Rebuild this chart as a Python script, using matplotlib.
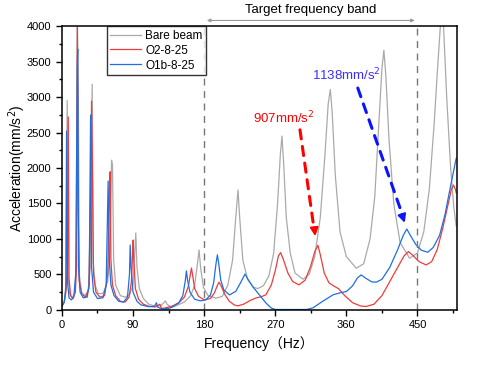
import matplotlib
matplotlib.use("Agg")
import matplotlib.pyplot as plt
from matplotlib.ticker import MultipleLocator

plt.rcParams['font.family'] = ['Liberation Sans', 'Noto Sans CJK SC', 'DejaVu Sans']

# 周波数応答 (読み取り値)
bare_f = [0, 3, 5, 6.7, 8, 10, 13, 16, 18, 19.5, 20.7, 22, 25, 29, 33, 36, 38.3, 39.5, 42, 46,
          52, 58, 61, 62.8, 64, 65.5, 68, 74, 80, 86, 90, 92.2, 93.5, 95, 98, 103, 110, 118,
          125, 129, 131, 133, 138, 145, 155, 163, 168, 171.5, 173.6, 175.5, 179, 185, 195,
          203, 210, 216, 220, 222.9, 225, 229, 235, 242, 248, 255, 262, 268, 273, 276.5,
          278.5, 280.5, 284, 289, 295, 305, 313, 320, 327, 333, 337, 339.7, 342, 346, 352,
          360, 372.5, 382, 390, 396, 401, 405, 407.5, 410, 414, 420, 428, 440, 450, 458,
          465, 471, 476, 479, 481, 483, 487, 492, 496, 499]
bare_a = [50, 120, 350, 2950, 450, 220, 170, 230, 600, 4200, 3100, 500, 250, 200, 260, 600,
          3180, 700, 350, 230, 230, 400, 900, 2110, 2040, 700, 350, 200, 180, 220, 350, 800,
          1084, 600, 300, 160, 80, 50, 60, 100, 127, 80, 40, 60, 110, 200, 350, 650, 845, 600,
          320, 200, 165, 190, 350, 700, 1300, 1690, 1300, 700, 430, 320, 300, 340, 480, 800,
          1500, 2200, 2450, 2100, 1300, 800, 520, 432, 500, 750, 1300, 2200, 2900, 3107, 2800,
          1900, 1100, 750, 587, 650, 1000, 1600, 2600, 3400, 3660, 3300, 2400, 1500, 950, 728,
          800, 1100, 1700, 2600, 3500, 4000, 4300, 4000, 3000, 2000, 1450, 1183]

o2_f = [0, 3, 5, 7, 8, 9, 11, 14, 17, 18.5, 19.5, 20.5, 22, 25, 30, 34, 36, 37.5, 38.5, 40,
        43, 48, 54, 58, 60, 61, 62, 64, 68, 74, 80, 85, 88, 89.5, 90.2, 91, 93, 97, 103, 110,
        118, 124, 126, 130, 140, 148, 155, 160, 163, 164, 165.5, 168, 173, 180, 188, 193, 197,
        198.9, 201, 206, 212, 218, 222.5, 230, 238, 245, 252, 258, 265, 270, 274, 276.8, 280,
        286, 292, 300, 308, 315, 320, 324, 327, 332, 338, 345, 350, 358, 368, 378, 385, 395,
        405, 415, 425, 433, 438.6, 444, 452, 461, 468, 475, 482, 488, 493, 495.5, 498, 499]
o2_a = [50, 110, 250, 600, 2720, 450, 200, 160, 250, 600, 3985, 1500, 400, 220, 180, 300,
        1400, 2943, 2060, 500, 250, 180, 200, 500, 1600, 1947, 700, 350, 200, 120, 110, 180,
        400, 800, 985, 700, 300, 150, 80, 50, 40, 80, 20, 25, 55, 100, 180, 330, 530, 590, 480,
        300, 190, 141, 160, 240, 350, 390, 350, 220, 120, 70, 56, 80, 130, 165, 185, 210, 350,
        550, 760, 807, 720, 520, 400, 352, 420, 620, 820, 910, 780, 520, 380, 330, 300, 200,
        100, 55, 47, 80, 200, 400, 600, 760, 822, 770, 680, 633, 680, 850, 1150, 1450, 1700,
        1760, 1700, 1650]

o1b_f = [0, 3, 5, 5.9, 7, 9, 12, 15, 17.5, 19.4, 20, 21, 23, 27, 32, 34.5, 36.3, 37.5, 40,
         45, 52, 56, 58.5, 60, 62, 66, 72, 78, 83, 85.5, 86.4, 87.5, 90, 95, 100, 110, 117,
         119.7, 121, 125, 130, 135, 140, 148, 153, 156, 157.6, 159, 162, 168, 175, 182, 188,
         192, 195, 196.8, 198.5, 201, 205, 212, 220, 226, 231.7, 235, 242, 250, 258, 265, 270,
         310, 318, 330, 343, 352, 360, 368, 374, 378.8, 384, 392, 397.8, 405, 415, 425, 432,
         436.5, 441, 448, 455, 463, 470, 478, 485, 492, 499]
o1b_a = [50, 110, 300, 2520, 400, 170, 140, 180, 500, 3420, 3675, 600, 250, 170, 180, 350,
         2746, 600, 250, 160, 170, 350, 1816, 700, 350, 200, 120, 110, 180, 500, 915, 600, 250,
         120, 70, 45, 50, 100, 40, 20, 15, 20, 40, 100, 200, 400, 550, 420, 250, 150, 127, 140,
         210, 380, 650, 775, 650, 420, 280, 211, 260, 380, 505, 440, 320, 210, 100, 25, 5, 5,
         30, 120, 211, 240, 258, 340, 450, 493, 450, 395, 390, 430, 600, 850, 1050, 1140, 1050,
         920, 840, 812, 880, 1050, 1350, 1750, 2135]

band = [180, 450]


def main():
    fig = plt.figure(figsize=(4.8, 3.68), dpi=100)
    ax = fig.add_axes([0.129, 0.158, 0.823, 0.771])

    ax.plot(bare_f, bare_a, color="#aaaaaa", lw=0.9, label="Bare beam")
    ax.plot(o2_f, o2_a, color="#ee3b3b", lw=0.9, label="O2-8-25")
    ax.plot(o1b_f, o1b_a, color="#1f6fe0", lw=0.9, label="O1b-8-25")

    # 対象周波数帯
    for b in band:
        ax.axvline(b, color="#777777", ls=(0, (5, 4)), lw=1.0)
    ax.annotate("", xy=(band[0], 1.02), xytext=(band[1], 1.02),
                xycoords=("data", "axes fraction"), textcoords=("data", "axes fraction"),
                arrowprops=dict(arrowstyle="<|-|>", color="#999999", lw=0.8,
                                mutation_scale=5), annotation_clip=False)
    ax.text(sum(band) / 2, 1.034, "Target frequency band", transform=ax.get_xaxis_transform(),
            ha="center", va="bottom", fontsize=9.5)

    # 注釈
    ax.text(281, 2703, "907mm/s$^2$", color="red", ha="center", va="center", fontsize=9.5)
    ax.annotate("", xy=(319, 1150), xytext=(300.8, 2577),
                arrowprops=dict(arrowstyle="-", color="red", lw=2.2, ls=(0, (3, 2.5))))
    ax.annotate("", xy=(321, 1000), xytext=(319, 1200),
                arrowprops=dict(arrowstyle="-|>", color="red", lw=1.5, mutation_scale=12))

    ax.text(360, 3309, "1138mm/s$^2$", color="#3a2fff", ha="center", va="center", fontsize=9.5)
    ax.annotate("", xy=(431, 1340), xytext=(373.3, 3164),
                arrowprops=dict(arrowstyle="-", color="#0a14ff", lw=2.2, ls=(0, (3, 2.5))))
    ax.annotate("", xy=(435, 1190), xytext=(429, 1390),
                arrowprops=dict(arrowstyle="-|>", color="#0a14ff", lw=1.5, mutation_scale=12))

    ax.set_xlim(0, 500)
    ax.set_ylim(0, 4000)
    ax.xaxis.set_major_locator(MultipleLocator(90))
    ax.xaxis.set_minor_locator(MultipleLocator(45))
    ax.yaxis.set_major_locator(MultipleLocator(500))
    ax.yaxis.set_minor_locator(MultipleLocator(250))
    ax.tick_params(which="major", length=4, width=1, labelsize=8)
    ax.tick_params(which="minor", length=2.5, width=1)
    for s in ax.spines.values():
        s.set_linewidth(1.1)

    ax.set_xlabel("Frequency（Hz）", fontsize=10)
    ax.set_ylabel("Acceleration(mm/s$^2$)", fontsize=10, labelpad=-1)

    leg = ax.legend(loc="upper left", bbox_to_anchor=(0.114, 1.0), fontsize=8.5,
                    frameon=True, fancybox=False, edgecolor="black", borderpad=0.3,
                    handlelength=2.6, handletextpad=0.35, labelspacing=0.25, borderaxespad=0)
    leg.get_frame().set_linewidth(1.0)

    fig.savefig("out.png", dpi=100)


if __name__ == '__main__':
    main()
